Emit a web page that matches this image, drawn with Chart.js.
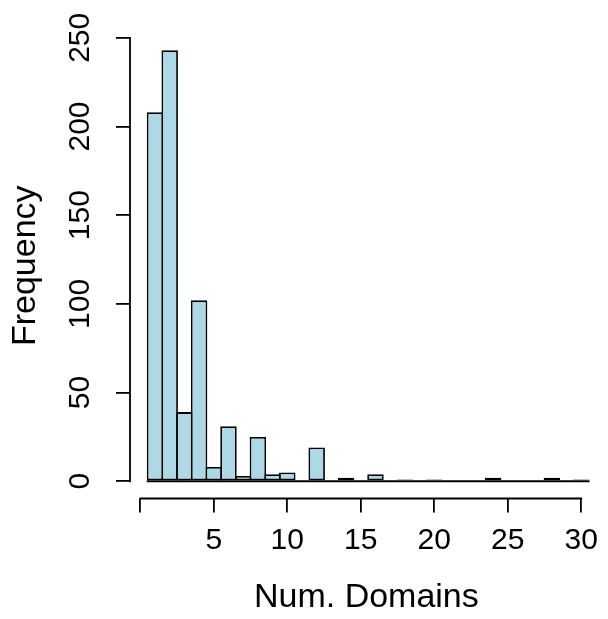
<!DOCTYPE html>
<html>
<head>
<meta charset="utf-8">
<script src="https://cdn.jsdelivr.net/npm/chart.js@4/dist/chart.umd.min.js"></script>
<style>
  html, body { margin: 0; padding: 0; background: #fff; }
  #wrap { width: 608px; height: 619px; }
</style>
</head>
<body>
<div id="wrap"><canvas id="hist"></canvas></div>
<script>
// histogram bins (centre of each unit-wide bin) and counts
const bins = [1, 2, 3, 4, 5, 6, 7, 8, 9, 10, 11, 12, 13, 14, 15,
  16, 17, 18, 19, 20, 21, 22, 23, 24, 25, 26, 27, 28, 29, 30];
const counts = [208, 243, 39, 102, 8, 31, 3, 25, 4, 5, 0, 19, 0, 2, 0,
  4, 0, 1, 0, 1, 0, 0, 0, 2, 0, 0, 0, 2, 0, 1];
const xTicks = [0, 5, 10, 15, 20, 25, 30];
const yTicks = [0, 50, 100, 150, 200, 250];

const FONT = "'Liberation Sans', Arial, Helvetica, sans-serif";
const LINE = 1.8;

// R style axis lines (first to last tick) and the flat outline of empty bins
const axisLines = {
  id: 'axisLines',
  afterDraw(chart) {
    const { ctx, chartArea, scales: { x, y } } = chart;
    ctx.save();
    ctx.strokeStyle = '#000';
    ctx.lineWidth = LINE;
    ctx.beginPath();
    const by = chartArea.bottom;
    ctx.moveTo(x.getPixelForValue(xTicks[0]) - LINE / 2, by);
    ctx.lineTo(x.getPixelForValue(xTicks[xTicks.length - 1]) + LINE / 2, by);
    const lx = chartArea.left;
    ctx.moveTo(lx, y.getPixelForValue(yTicks[0]) + LINE / 2);
    ctx.lineTo(lx, y.getPixelForValue(yTicks[yTicks.length - 1]) - LINE / 2);
    const y0 = y.getPixelForValue(0);
    ctx.moveTo(x.getPixelForValue(bins[0] - 0.5) - LINE / 2, y0);
    ctx.lineTo(x.getPixelForValue(bins[bins.length - 1] + 0.5) + LINE / 2, y0);
    ctx.stroke();
    ctx.restore();
  }
};

new Chart(document.getElementById('hist'), {
  type: 'bar',
  data: {
    datasets: [{
      data: bins.map((b, i) => ({ x: b, y: counts[i] })),
      backgroundColor: '#ADD8E6',
      borderColor: '#000',
      borderWidth: LINE,
      borderSkipped: false,
      barPercentage: 1.121,
      categoryPercentage: 1
    }]
  },
  options: {
    responsive: true,
    maintainAspectRatio: false,
    animation: false,
    layout: { padding: { top: 33, right: 1, left: 0, bottom: 0 } },
    plugins: { legend: { display: false }, tooltip: { enabled: false } },
    scales: {
      x: {
        type: 'linear',
        offset: false,
        min: -0.7,
        max: 31.46,
        afterBuildTicks: s => { s.ticks = xTicks.map(v => ({ value: v })); },
        afterFit: s => { s.height = 120.5; },
        border: { display: false },
        grid: { offset: false, drawOnChartArea: false, drawTicks: true, tickLength: 14, color: '#000', lineWidth: LINE },
        ticks: {
          color: '#000',
          font: { family: FONT, size: 30 },
          padding: 10,
          maxRotation: 0,
          autoSkip: false,
          callback: v => (v === 0 ? '' : v)
        },
        title: {
          display: true,
          text: 'Num. Domains',
          color: '#000',
          font: { family: FONT, size: 34, lineHeight: 1.2 },
          padding: { top: 0, bottom: 1 }
        }
      },
      y: {
        min: -9.72,
        max: 252.72,
        afterBuildTicks: s => { s.ticks = yTicks.map(v => ({ value: v })); },
        afterFit: s => { s.width = 130; },
        border: { display: false },
        grid: { drawOnChartArea: false, drawTicks: true, tickLength: 14, color: '#000', lineWidth: LINE },
        ticks: {
          color: '#000',
          font: { family: FONT, size: 30 },
          padding: 10,
          minRotation: 90,
          maxRotation: 90,
          crossAlign: 'center',
          autoSkip: false
        },
        title: {
          display: true,
          text: 'Frequency',
          color: '#000',
          font: { family: FONT, size: 34, lineHeight: 1.2 },
          padding: { top: 5, bottom: 0 }
        }
      }
    }
  },
  plugins: [axisLines]
});
</script>
</body>
</html>
